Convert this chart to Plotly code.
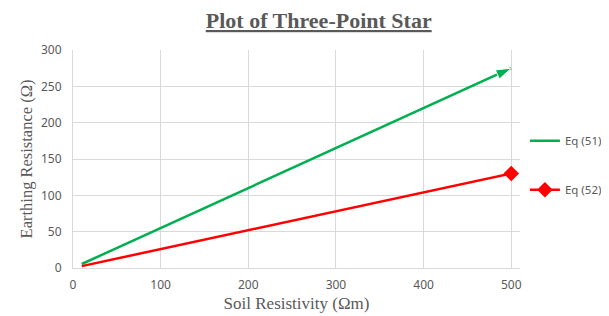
import plotly.graph_objects as go

resistivity = [10, 100, 200, 300, 400, 500]
eq51 = [5.5, 55, 110, 165, 220, 275]
eq52 = [2.6, 26, 52, 78, 104, 130]
series_names = ["Eq (51)", "Eq (52)"]

GREEN = "#00b050"
RED = "#ff0000"
GREY = "#595959"

fig = go.Figure()
fig.add_trace(go.Scatter(x=resistivity, y=eq51, mode="lines", name=series_names[0],
                         line=dict(color=GREEN, width=2.5), legendgroup="a"))
fig.add_trace(go.Scatter(x=resistivity[-2:], y=eq51[-2:], mode="markers", showlegend=False,
                         marker=dict(symbol="arrow", angleref="previous", size=[0, 16], color=GREEN,
                                     opacity=1)))
fig.add_trace(go.Scatter(x=resistivity, y=eq52, mode="lines", showlegend=False,
                         line=dict(color=RED, width=2.5)))
fig.add_trace(go.Scatter(x=resistivity[-1:], y=eq52[-1:], mode="markers", showlegend=False,
                         marker=dict(symbol="diamond", size=12, color=RED, opacity=1,
                                     line=dict(width=0))))
# legend entry for Eq (52) (line with diamond)
fig.add_trace(go.Scatter(x=[None], y=[None], mode="lines+markers", name=series_names[1],
                         line=dict(color=RED, width=2.5), legendgroup="b",
                         marker=dict(symbol="diamond", size=12, color=RED)))

fig.update_layout(
    width=601, height=308,
    margin=dict(l=65, r=89, t=42, b=48, autoexpand=False),
    paper_bgcolor="white", plot_bgcolor="white",
    title=dict(text="<u><b>Plot of Three-Point Star</b></u>", x=0.517, xanchor="center",
               y=0.96, yanchor="middle",
               font=dict(family="Liberation Serif", size=22, color=GREY)),
    xaxis=dict(range=[0, 510], dtick=100, tick0=0, showgrid=True, gridcolor="#d9d9d9", gridwidth=1,
               zeroline=False, showline=True, linecolor="#d9d9d9", ticks="", automargin=False,
               ticklabelstandoff=6,
               tickfont=dict(family="Noto Sans", size=12, color=GREY),
               title=dict(text="Soil Resistivity (Ωm)", standoff=4,
                          font=dict(family="Liberation Serif", size=17, color=GREY))),
    yaxis=dict(range=[0, 300], dtick=50, showgrid=True, gridcolor="#d9d9d9", gridwidth=1,
               zeroline=False, showline=True, linecolor="#d9d9d9", ticks="", automargin=False,
               ticklabelstandoff=8,
               tickfont=dict(family="Noto Sans", size=12, color=GREY),
               title=dict(text="Earthing Resistance (Ω)", standoff=4,
                          font=dict(family="Liberation Serif", size=16.5, color=GREY))),
    legend=dict(x=1.011, xanchor="left", y=0.65, yanchor="top", tracegroupgap=30,
                font=dict(family="Noto Sans", size=11.5, color=GREY), itemwidth=30),
    showlegend=True,
)

fig.write_html("out.html")
